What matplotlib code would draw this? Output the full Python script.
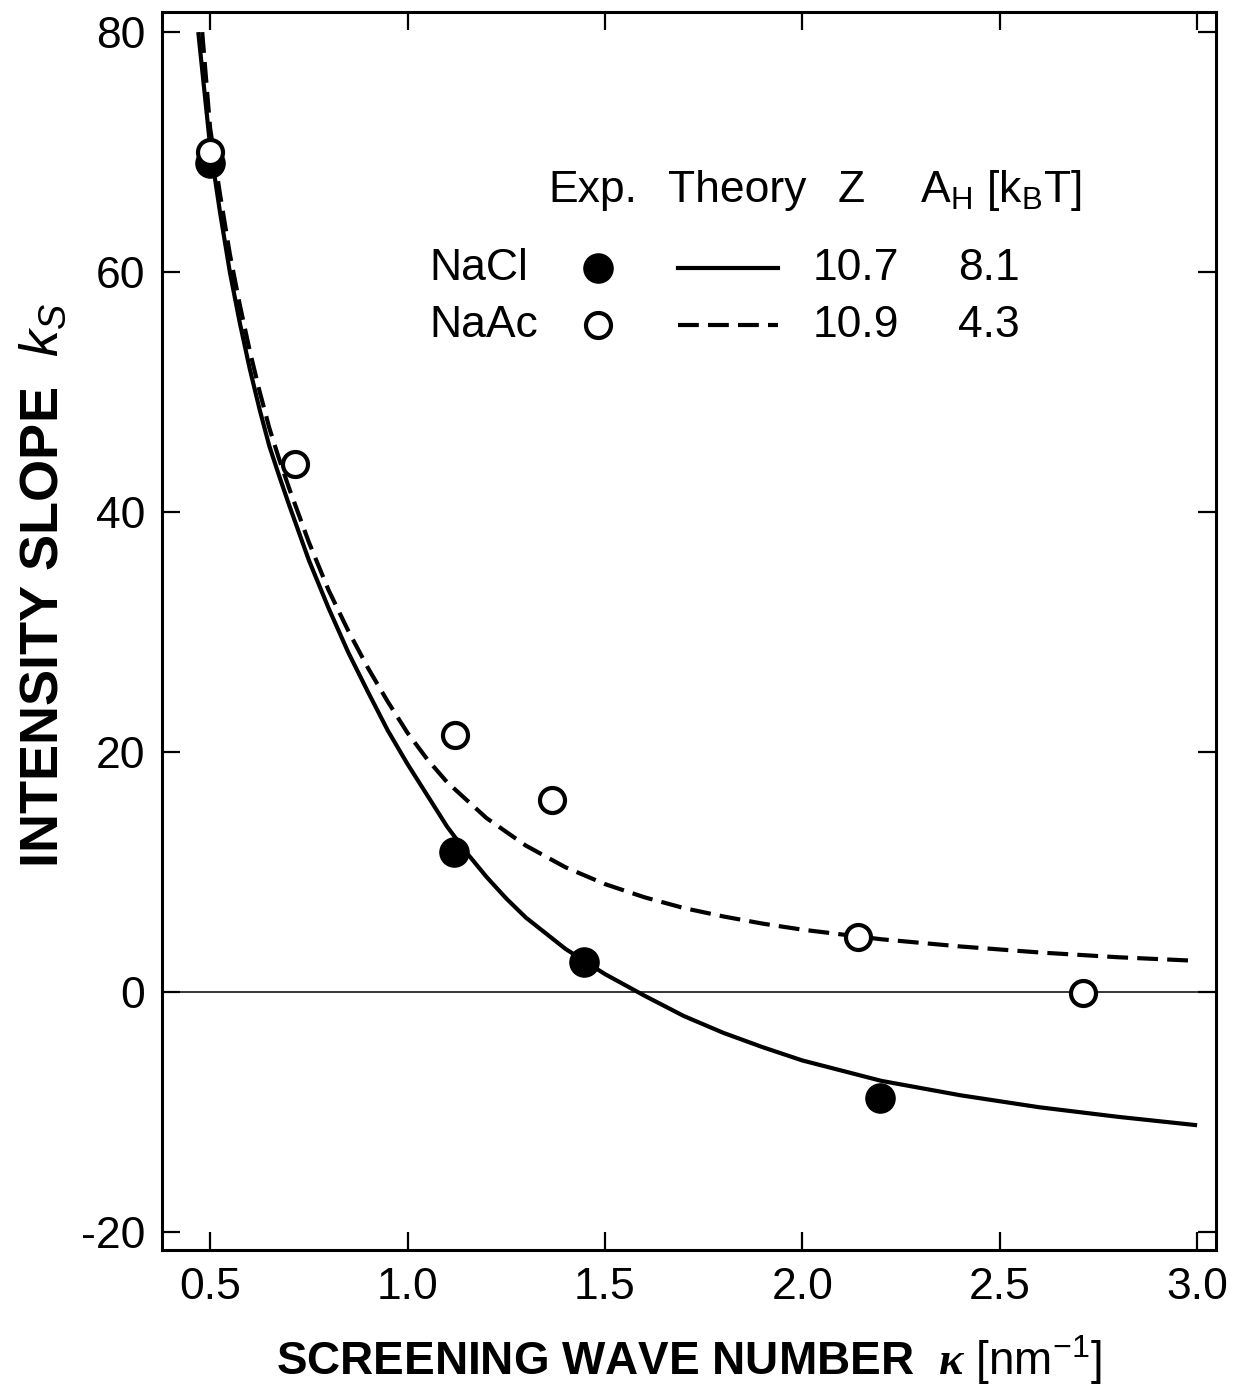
import matplotlib
matplotlib.use('Agg')
import matplotlib.pyplot as plt
import numpy as np

plt.rcParams['font.family'] = ['Liberation Sans', 'DejaVu Sans']
plt.rcParams['mathtext.fontset'] = 'custom'
plt.rcParams['mathtext.rm'] = 'Liberation Sans'
plt.rcParams['mathtext.it'] = 'Liberation Sans:italic'
plt.rcParams['mathtext.bf'] = 'Liberation Sans:bold'
plt.rcParams['mathtext.bfit'] = 'Liberation Serif:italic:bold'
plt.rcParams['axes.unicode_minus'] = False

# experimental points
nacl_kappa = [0.50, 1.118, 1.447, 2.197]
nacl_ks = [69.1, 11.7, 2.5, -8.8]
naac_kappa = [0.50, 0.715, 1.12, 1.366, 2.141, 2.711]
naac_ks = [70.0, 44.0, 21.4, 16.0, 4.6, -0.1]

# theory curves
th_nacl_kappa = [0.47, 0.50, 0.525, 0.55, 0.575, 0.60, 0.625, 0.65, 0.675, 0.70, 0.75, 0.80,
                 0.85, 0.90, 0.95, 1.00, 1.10, 1.15, 1.20, 1.25, 1.30, 1.40, 1.50, 1.60,
                 1.70, 1.80, 1.90, 2.00, 2.20, 2.40, 2.60, 2.80, 3.00]
th_nacl_ks = [80, 70.5, 65, 60, 55.8, 52, 48.6, 45.5, 43.0, 40.6, 36, 32,
              28.3, 25, 21.8, 19, 13.8, 11.6, 9.6, 7.8, 6.2, 3.6, 1.5, -0.3,
              -2.0, -3.4, -4.6, -5.7, -7.4, -8.6, -9.6, -10.4, -11.1]
th_naac_kappa = [0.48, 0.50, 0.525, 0.55, 0.575, 0.60, 0.625, 0.65, 0.675, 0.70, 0.75, 0.80,
                 0.85, 0.90, 0.95, 1.00, 1.05, 1.10, 1.20, 1.30, 1.40, 1.50, 1.60, 1.70,
                 1.80, 1.90, 2.00, 2.20, 2.40, 2.60, 2.80, 3.00]
th_naac_ks = [80, 72, 66.5, 61.5, 57.3, 53.5, 50.1, 47, 44.4, 42, 37.5, 33.5,
              30.1, 27, 24.2, 21.6, 19.4, 17.5, 14.5, 12.2, 10.4, 9.0, 7.9, 7.0,
              6.3, 5.7, 5.2, 4.4, 3.8, 3.3, 2.9, 2.6]

xticks = [0.5, 1.0, 1.5, 2.0, 2.5, 3.0]
yticks = [-20, 0, 20, 40, 60, 80]

fig = plt.figure(figsize=(12.41, 13.88), dpi=100)
ax = fig.add_axes([0.1305, 0.0994, 0.8494, 0.8919])

ax.axhline(0, color='black', lw=1.1, zorder=1)
ax.plot(th_nacl_kappa, th_nacl_ks, color='black', lw=3.0, solid_capstyle='butt', zorder=2)
ax.plot(th_naac_kappa, th_naac_ks, color='black', lw=3.0, dashes=(5, 2.2), zorder=2)
ax.plot(nacl_kappa, nacl_ks, 'o', color='black', ms=21, zorder=3)
ax.plot(naac_kappa, naac_ks, 'o', mfc='white', mec='black', mew=3, ms=18, zorder=4)

ax.set_xlim(0.378, 3.048)
ax.set_ylim(-21.5, 81.67)
ax.set_xticks(xticks)
ax.set_xticklabels(['%.1f' % v for v in xticks])
ax.set_yticks(yticks)
ax.set_yticklabels(['%d' % v for v in yticks])
ax.tick_params(direction='in', length=13, width=1.6, labelsize=32,
               top=True, right=True)
ax.tick_params(axis='x', pad=12)
ax.tick_params(axis='y', pad=12)
for s in ax.spines.values():
    s.set_linewidth(2.2)

ax.set_xlabel(r'SCREENING WAVE NUMBER  $\boldsymbol{\kappa}\ \mathrm{[nm^{-1}]}$',
              fontsize=33, fontweight='bold', labelpad=18)
ax.set_ylabel(r'INTENSITY SLOPE  $k_S$', fontsize=39, fontweight='bold')
ax.yaxis.set_label_coords(-0.089, 0.537)

# table-like legend
fs = 32
ax.text(0.367, 0.856, 'Exp.', transform=ax.transAxes, fontsize=fs, va='center')
ax.text(0.480, 0.856, 'Theory', transform=ax.transAxes, fontsize=fs, va='center')
ax.text(0.641, 0.856, 'Z', transform=ax.transAxes, fontsize=fs, va='center')
ax.text(0.719, 0.856, r'A$_\mathrm{H}$ [k$_\mathrm{B}$T]', transform=ax.transAxes,
        fontsize=fs, va='center')
rows = [('NaCl', '10.7', '8.1', 0.793), ('NaAc', '10.9', '4.3', 0.747)]
for name, z, ah, yy in rows:
    ax.text(0.254, yy, name, transform=ax.transAxes, fontsize=fs, va='center')
    ax.text(0.617, yy, z, transform=ax.transAxes, fontsize=fs, va='center')
    ax.text(0.755, yy, ah, transform=ax.transAxes, fontsize=fs, va='center')
ax.plot([0.414], [0.793], 'o', color='black', ms=21, transform=ax.transAxes, clip_on=False)
ax.plot([0.414], [0.747], 'o', mfc='white', mec='black', mew=3, ms=18,
        transform=ax.transAxes, clip_on=False)
ax.plot([0.490, 0.584], [0.793, 0.793], color='black', lw=3.0, transform=ax.transAxes)
ax.plot([0.490, 0.584], [0.747, 0.747], color='black', lw=3.0, dashes=(5, 2.2),
        transform=ax.transAxes)

fig.savefig('out.png', dpi=100)
